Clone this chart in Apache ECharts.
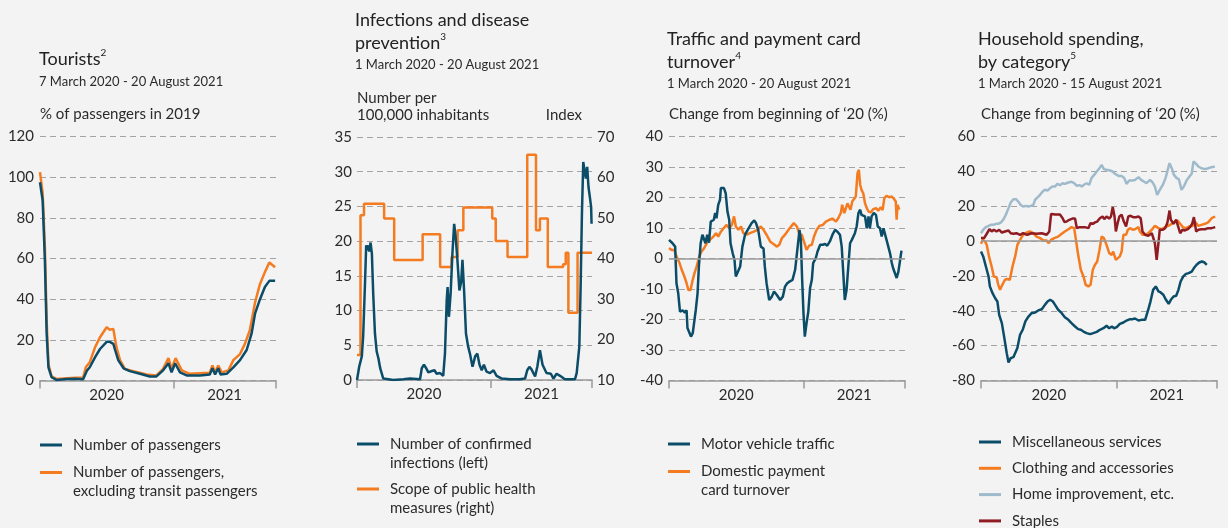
<!DOCTYPE html>
<html>
<head>
<meta charset="utf-8">
<script src="https://cdn.jsdelivr.net/npm/echarts@6/dist/echarts.min.js"></script>
<style>
  html, body { margin: 0; padding: 0; background: #f3f3f3; }
  #chart { width: 1228px; height: 528px; }
</style>
</head>
<body>
<div id="chart"></div>
<script>
// x values are days since each panel's start date
const yearLabels = ['2020', '2021'];

// Tourists (from 7 March 2020)
const passengers = [[0,97.5],[6,88.5],[11,59],[15,23],[19,6.5],[26,1.6],[37,0.3],[60,0.7],[80,0.9],[97,0.6],[101,0.5],[106,5],[112,6.5],[124,11.5],[135,15.5],[150,19],[157,19],[165,18],[169,15],[176,10],[188,6],[202,4.6],[225,3.3],[247,2],[262,2],[277,5],[289,8.5],[296,4],[304,8.5],[315,4],[330,2.5],[360,2.5],[382,3],[388,6],[394,3],[401,6],[406,3],[420,3.3],[435,6.5],[450,10],[465,15],[476,23],[484,33],[495,40],[506,46],[516,49],[529,49]];
const passengersExTransit = [[0,102.5],[6,92],[11,65.5],[15,29.5],[19,8],[26,2],[37,0.8],[60,1.1],[80,1.3],[97,1.3],[103,6.5],[112,9],[124,16.4],[135,21.3],[150,26.2],[157,25],[165,25.4],[172,16.4],[180,10],[191,5.7],[210,4.6],[240,3],[262,2.5],[277,5.7],[289,11],[296,5.7],[305,11],[319,5],[337,3.3],[382,3.8],[388,7.4],[394,4],[401,7.4],[409,4],[424,5],[435,10],[450,13],[461,18],[472,24.6],[484,38.5],[495,47.5],[506,53.3],[516,58],[529,55.7]];

// Infections and disease prevention (from 1 March 2020)
const infections = [[0,0],[5,1.9],[11,3.4],[14,6.2],[18,13.4],[21,19.4],[24,18.7],[26,19.4],[28,18.5],[31,19.8],[34,18.2],[37,12.5],[41,6.7],[45,4.1],[49,3.1],[53,1.7],[60,0.2],[83,0],[106,0.1],[121,0.2],[144,0.1],[148,1.7],[153,2.2],[158,1.7],[163,1.1],[171,1.3],[177,1.4],[182,0.9],[190,1],[197,0.6],[201,3.8],[205,11.5],[207,13.4],[210,9.1],[214,12.5],[218,18.2],[222,22.5],[225,20.9],[229,17.7],[234,12.9],[238,14.1],[241,17.3],[245,12.5],[249,6.7],[254,4.8],[258,3.8],[264,1.9],[270,3.4],[275,3.8],[280,2.2],[285,1.4],[290,2.2],[296,1.2],[304,1],[312,1.4],[319,0.6],[331,0.2],[350,0.1],[372,0.1],[384,0.2],[389,1.4],[394,1.9],[399,1.5],[407,0.5],[412,1.9],[418,4.3],[424,2.2],[433,1],[443,0.9],[449,0.2],[456,0.9],[464,0.6],[475,0.1],[487,0.1],[498,0.1],[502,1],[508,4.8],[511,13.4],[514,24],[517,31.4],[521,31.2],[523,29],[526,30.7],[529,27.8],[532,26.4],[535,24.9],[536,22.5]];
const healthMeasures = [[0,16.2],[8,50.7],[16,53.5],[62,49.9],[85,39.6],[150,46],[190,37.9],[216,40.4],[230,47],[243,52.6],[309,49.9],[317,44.3],[344,40.4],[389,65.6],[409,47],[418,49.9],[436,37.9],[471,38.6],[477,41.4],[483,26.6],[504,41.4],[537,41.4]];

// Traffic and payment card turnover (from 1 March 2020)
const vehicleTraffic = [[0,6.1],[8,5],[14,3.9],[17,-8.1],[21,-11.4],[25,-17.4],[31,-17],[36,-17.7],[40,-17],[42,-22.8],[46,-23.4],[50,-25.6],[54,-24.5],[58,-20.1],[61,-16.8],[65,-11.4],[68,-2.6],[72,5],[76,7.8],[80,8.3],[83,5],[87,7.8],[91,5.2],[95,12.1],[99,11.6],[102,12.7],[105,14.9],[108,13.2],[112,17.6],[116,19.2],[118,23.1],[125,23.1],[129,21.4],[133,15.4],[137,12.7],[140,5],[145,1.7],[149,-0.4],[152,-5.9],[156,-5.4],[162,-2.6],[167,3.9],[173,7.8],[181,9.9],[188,11.6],[194,12.5],[198,11.6],[203,9.4],[209,3.9],[215,3.3],[218,-2.6],[222,-8.1],[228,-13.6],[234,-12.5],[239,-10.8],[245,-11.9],[253,-13.6],[259,-12.5],[264,-9.2],[269,-8.1],[275,-7.5],[281,-7],[287,-3.7],[292,2.8],[297,9.4],[300,6.1],[303,-7],[306,-17.9],[309,-25.6],[313,-21.2],[317,-17.4],[321,-9.7],[325,-7],[328,-1.5],[334,0.1],[338,2.3],[344,4.5],[350,4.5],[355,4.8],[360,4.2],[366,5.6],[372,7.8],[378,9.4],[383,8.8],[389,7.8],[393,3.9],[397,-5.9],[400,-13.6],[404,-10.3],[408,-10.3],[412,5],[416,6.1],[419,5.6],[423,8.3],[427,10.5],[431,14.9],[435,16],[438,14.3],[442,14.3],[446,13.8],[450,9.9],[454,13.8],[457,9.9],[461,13.8],[466,14.9],[471,14.3],[475,10.5],[480,9.9],[484,7.2],[488,9.9],[492,10.5],[495,6.1],[499,3.9],[503,1.7],[507,-1.5],[510,-3.2],[514,-2.6],[518,-6.4],[522,-4.3],[526,-0.4],[529,2.6]];
const cardTurnover = [[0,3.4],[6,2.8],[12,2.8],[17,0.7],[24,-1.5],[29,-3.7],[35,-5.9],[40,-8.1],[44,-10.3],[49,-10.3],[54,-7],[58,-4.8],[63,-2.6],[69,0.7],[74,2.3],[80,3.4],[86,5],[93,6.1],[101,7.2],[107,8.3],[112,7.2],[118,8.8],[124,9.9],[131,11],[137,9.9],[143,11],[148,13.8],[152,10.5],[158,9.4],[164,10.5],[169,8.3],[177,7.8],[184,8.3],[193,8.8],[201,9.4],[209,10.5],[215,9.4],[222,7.8],[230,5.6],[237,4.8],[245,3.9],[251,4.5],[257,6.7],[264,7.8],[272,9.4],[279,10.7],[284,11.6],[291,10.5],[297,7.8],[302,7.8],[307,5.6],[313,2.8],[319,4.2],[325,4.5],[330,7.2],[336,9.4],[342,10.7],[350,11],[357,12.1],[365,12.7],[372,13.1],[380,12.1],[385,13.2],[391,14.9],[394,17.6],[399,14.9],[403,14.9],[406,18.1],[410,18.7],[413,16],[417,18.7],[421,18.1],[425,20.3],[429,28],[432,29.1],[435,24.2],[438,22.5],[442,21.4],[446,18.1],[450,16.5],[454,15.4],[459,15.1],[465,16.2],[471,16.5],[476,15.7],[482,16.8],[486,15.9],[490,19.8],[495,20.5],[501,20.1],[507,20.3],[512,19.5],[516,18.7],[518,12.7],[520,17.6],[524,16]];

// Household spending, by category (from 1 March 2020)
const miscServices = [[0,-6],[5,-8.8],[11,-14.6],[17,-20.3],[20,-26],[26,-29.9],[32,-32.8],[37,-34.7],[41,-42.3],[47,-47.1],[52,-54.7],[58,-64.3],[62,-69.7],[67,-67.2],[73,-66.6],[77,-66.2],[82,-61.4],[88,-53.8],[94,-50.9],[100,-46.1],[107,-43.3],[114,-41.4],[122,-41],[129,-39.8],[137,-39.1],[144,-36.6],[150,-34.7],[156,-33.7],[162,-34.7],[167,-36.6],[174,-39.4],[182,-41.4],[189,-43.7],[197,-45.2],[204,-47.1],[212,-49],[219,-50.5],[225,-50.9],[231,-51.9],[238,-52.8],[246,-53.4],[253,-52.8],[261,-52.1],[268,-50.9],[276,-50],[283,-48.6],[289,-50],[295,-49],[300,-50],[306,-49.4],[313,-47.5],[321,-46.7],[328,-45.6],[336,-44.8],[342,-44.8],[347,-44.4],[355,-45.6],[362,-45.2],[370,-45.2],[377,-39.4],[382,-34.7],[388,-28],[394,-26],[400,-28.9],[405,-29.5],[411,-30.8],[417,-33.7],[423,-36],[428,-33.7],[434,-31.8],[440,-31.4],[445,-28],[450,-23.2],[456,-20.3],[462,-18.8],[468,-18.4],[475,-17.5],[480,-15.5],[486,-13.6],[492,-12.3],[498,-11.7],[504,-12.3],[509,-13.6]];
const clothing = [[0,-1.6],[4,0.7],[9,-0.2],[13,-2.2],[18,-8.8],[24,-14.6],[29,-20.3],[35,-20.7],[39,-25.1],[43,-28],[48,-25.1],[54,-22.2],[59,-21.8],[65,-22.2],[71,-14.6],[77,-8.8],[82,-2.2],[88,0.7],[95,3.6],[103,4.9],[110,5.5],[118,4.5],[125,2.6],[133,1.7],[141,0.3],[148,0.3],[152,-1.2],[158,0.7],[165,1.7],[174,2.6],[182,4.2],[189,5.5],[197,6.8],[204,8],[210,7.4],[214,0.7],[219,-7.9],[225,-16.5],[231,-20.3],[236,-25.1],[242,-26],[247,-25.1],[252,-16.5],[257,-13.6],[262,-11.7],[267,-5.2],[272,2.6],[277,1.7],[283,-2.2],[289,-6.9],[295,-7.9],[298,-6],[304,-10.8],[308,-11.7],[313,-8.8],[317,-6],[321,3.6],[327,3.6],[331,6.5],[336,7.4],[342,6.5],[347,6.8],[355,8],[358,5.5],[364,3.6],[370,3.6],[377,4.5],[385,6.5],[392,8.7],[400,7.4],[407,6.8],[415,8],[422,8.7],[430,9.9],[437,11.2],[443,11.8],[449,9.9],[455,8],[462,7.4],[470,8.4],[477,8.7],[482,11.2],[490,8.7],[497,9.3],[505,9.9],[512,10.7],[520,13.1],[528,14.1]];
const homeImprovement = [[0,4.5],[5,6.5],[11,8],[17,8.7],[22,9.3],[28,9.3],[34,9.9],[39,9.9],[45,10.7],[50,12.2],[56,15.1],[62,18.9],[67,22.1],[73,24],[79,24],[84,22.7],[89,20.8],[95,19.8],[101,20.2],[107,19.8],[112,20.2],[118,20.8],[122,23.7],[128,25.2],[133,26.5],[139,28.4],[144,29.4],[150,29],[156,30.4],[161,31.3],[167,31.3],[172,32.8],[178,32.1],[184,33.2],[189,32.8],[197,33.6],[204,34],[210,33.2],[216,31.7],[222,32.1],[227,31.3],[232,32.3],[238,33.2],[244,32.3],[249,36.1],[255,38],[261,39.9],[267,41.8],[272,43.7],[277,41.3],[283,40.9],[291,40.5],[297,39.9],[302,38.6],[310,37.4],[317,37.4],[323,36.1],[328,32.8],[334,34.8],[340,34.8],[347,35.1],[355,36.7],[361,35.1],[367,34.2],[373,33.2],[381,35.1],[387,33.6],[392,31.3],[397,26.5],[403,29.4],[410,32.3],[416,36.1],[420,39.9],[425,44.7],[430,41.8],[435,38],[441,36.1],[446,35.5],[452,29.4],[458,31.7],[464,35.1],[470,37.1],[475,38.6],[479,45.7],[485,44.3],[490,42.8],[497,41.8],[505,41.3],[512,41.8],[520,42.4],[527,42.8]];
const staples = [[0,1.7],[7,1.7],[13,4.2],[19,6.8],[24,5.5],[29,6.5],[35,5.5],[41,6.5],[47,4.9],[54,5.5],[62,6.1],[67,4.5],[73,4.2],[80,4.5],[88,3.6],[95,4.5],[104,3.6],[114,4.5],[125,4.2],[137,4.5],[148,3.6],[154,5.5],[158,15.6],[167,15.2],[178,15.2],[184,13.1],[188,10.9],[193,11.2],[199,12.2],[206,12.9],[212,12.9],[216,7.4],[222,8],[227,8],[234,8],[242,7.4],[247,10.3],[252,9.9],[257,10.7],[262,11.2],[268,13.1],[274,14.1],[278,12.6],[283,14.1],[289,12.9],[293,14.1],[297,19.5],[301,14.1],[304,5.5],[308,10.3],[312,14.1],[317,15.1],[322,11.2],[327,8.4],[332,14.1],[337,14.5],[343,13.7],[349,13.7],[355,14.1],[360,13.1],[364,5.5],[370,3.6],[377,3],[385,4.5],[388,4.2],[392,-1.2],[396,-10.8],[400,-1.2],[403,6.5],[410,6.5],[415,7.4],[420,10.3],[425,17.5],[428,12.2],[434,9.9],[440,12.2],[444,8.7],[449,4.5],[454,6.5],[460,6.1],[466,6.8],[471,8],[476,9.9],[480,13.7],[485,5.5],[490,6.5],[497,6.8],[505,6.8],[512,7.4],[520,7.4],[528,8]];

const FONT = 'Lato';
const TEXT = '#2b2b2b';
const AXIS = '#9b9b9b';
const GRID = '#a3a3a3';
const TEAL = '#0b4d69';
const ORANGE = '#f47b20';
const LIGHTBLUE = '#9fbacb';
const DARKRED = '#8e1c22';

function days(start, date) {
  return (Date.parse(date) - Date.parse(start)) / 864e5;
}

function xAxisFor(gridIndex, start, end) {
  const endDay = days(start, end);
  const yearDay = days(start, '2021-01-01');
  return {
    type: 'value', gridIndex, min: 0, max: endDay,
    axisLine: { show: true, onZero: false, lineStyle: { color: AXIS, width: 1.5 } },
    axisTick: { show: true, customValues: [0, yearDay, endDay], length: 8, lineStyle: { color: AXIS, width: 1.5 } },
    axisLabel: {
      customValues: [yearDay / 2, (yearDay + endDay) / 2],
      formatter: v => v < yearDay ? yearLabels[0] : yearLabels[1],
      margin: 7, fontFamily: FONT, fontSize: 15, color: TEXT
    },
    splitLine: { show: false }
  };
}

function yAxisFor(gridIndex, min, max, interval, name, extra) {
  return Object.assign({
    type: 'value', gridIndex, min, max, interval,
    name, nameLocation: 'end', nameGap: 22,
    nameTextStyle: { fontFamily: FONT, fontSize: 15, color: TEXT, align: 'left', verticalAlign: 'middle', lineHeight: 17 },
    axisLine: { show: false }, axisTick: { show: false },
    axisLabel: { margin: 6, fontFamily: FONT, fontSize: 15, color: TEXT },
    splitLine: { show: true, lineStyle: { color: GRID, type: [6, 4], width: 1 } }
  }, extra || {});
}

function line(name, data, xi, yi, color, extra) {
  return Object.assign({
    name, type: 'line', xAxisIndex: xi, yAxisIndex: yi, data,
    symbol: 'none', showSymbol: false, silent: true,
    lineStyle: { width: 2.5, color }, itemStyle: { color }
  }, extra || {});
}

const zeroLine = {
  silent: true, symbol: 'none', label: { show: false },
  lineStyle: { color: AXIS, type: 'solid', width: 1.5 },
  data: [{ yAxis: 0 }]
};

// two-line names get an empty leading line so the key sits beside the first line
function legendFor(left, top, gap, names) {
  return {
    left, top, height: 160, orient: 'vertical', padding: 0, itemGap: gap,
    itemWidth: 22, itemHeight: 3, icon: 'rect', selectedMode: false,
    formatter: n => n.indexOf('\n') >= 0 ? '\n' + n : n,
    textStyle: { fontFamily: FONT, fontSize: 15, color: TEXT, lineHeight: 19, padding: [0, 0, 0, 6] },
    data: names
  };
}

const titleStyle = {
  fontFamily: FONT, fontSize: 18, fontWeight: 'normal', color: '#222', lineHeight: 23,
  rich: { sup: { fontFamily: FONT, fontSize: 10, color: '#222', verticalAlign: 'top', lineHeight: 16 } }
};
const dateStyle = { fontFamily: FONT, fontSize: 13, fontWeight: 'normal', color: TEXT };

const N = {
  pass: 'Number of passengers',
  passEx: 'Number of passengers,\nexcluding transit passengers',
  inf: 'Number of confirmed\ninfections (left)',
  meas: 'Scope of public health\nmeasures (right)',
  traffic: 'Motor vehicle traffic',
  card: 'Domestic payment\ncard turnover',
  misc: 'Miscellaneous services',
  cloth: 'Clothing and accessories',
  home: 'Home improvement, etc.',
  staples: 'Staples'
};

const chart = echarts.init(document.getElementById('chart'), null, { renderer: 'canvas' });
chart.setOption({
  backgroundColor: '#f3f3f3',
  animation: false,
  title: [
    { text: 'Tourists{sup|2}', left: 39, top: 48, padding: 0, textStyle: titleStyle },
    { text: '7 March 2020 - 20 August 2021', left: 39, top: 75, padding: 0, textStyle: dateStyle },
    { text: 'Infections and disease\nprevention{sup|3}', left: 355, top: 9, padding: 0, textStyle: titleStyle },
    { text: '1 March 2020 - 20 August 2021', left: 355, top: 58.5, padding: 0, textStyle: dateStyle },
    { text: 'Traffic and payment card\nturnover{sup|4}', left: 667, top: 28, padding: 0, textStyle: titleStyle },
    { text: '1 March 2020 - 20 August 2021', left: 667, top: 77.5, padding: 0, textStyle: dateStyle },
    { text: 'Household spending,\nby category{sup|5}', left: 978, top: 28, padding: 0, textStyle: titleStyle },
    { text: '1 March 2020 - 15 August 2021', left: 978, top: 77.5, padding: 0, textStyle: dateStyle }
  ],
  legend: [
    legendFor(40, 435.5, -10.5, [N.pass, N.passEx]),
    legendFor(357, 415.5, -12, [N.inf, N.meas]),
    legendFor(668, 434.5, -10.5, [N.traffic, N.card]),
    legendFor(979, 432.5, 7.3, [N.misc, N.cloth, N.home, N.staples])
  ],
  grid: [
    { left: 40, top: 136.5, width: 236, height: 244 },
    { left: 357, top: 137, width: 235, height: 243 },
    { left: 669, top: 136.5, width: 236, height: 244 },
    { left: 981, top: 136.5, width: 236, height: 244 }
  ],
  xAxis: [
    xAxisFor(0, '2020-03-07', '2021-08-20'),
    xAxisFor(1, '2020-03-01', '2021-08-20'),
    xAxisFor(2, '2020-03-01', '2021-08-20'),
    xAxisFor(3, '2020-03-01', '2021-08-15')
  ],
  yAxis: [
    yAxisFor(0, 0, 120, 20, '% of passengers in 2019'),
    yAxisFor(1, 0, 35, 5, 'Number per\n100,000 inhabitants', { nameGap: 30.5, axisLabel: { margin: 5, fontFamily: FONT, fontSize: 15, color: TEXT } }),
    yAxisFor(1, 10, 70, 10, 'Index', {
      position: 'right',
      nameTextStyle: { fontFamily: FONT, fontSize: 15, color: TEXT, align: 'right', verticalAlign: 'middle', padding: [0, 10, 0, 0] },
      axisLabel: { margin: 5, fontFamily: FONT, fontSize: 15, color: TEXT },
      splitLine: { show: false }
    }),
    yAxisFor(2, -40, 40, 10, 'Change from beginning of \u201820 (%)'),
    yAxisFor(3, -80, 60, 20, 'Change from beginning of \u201820 (%)')
  ],
  series: [
    line(N.passEx, passengersExTransit, 0, 0, ORANGE),
    line(N.pass, passengers, 0, 0, TEAL),
    line(N.meas, healthMeasures, 1, 2, ORANGE, { step: 'end' }),
    line(N.inf, infections, 1, 1, TEAL),
    line(N.card, cardTurnover, 2, 3, ORANGE, { markLine: zeroLine }),
    line(N.traffic, vehicleTraffic, 2, 3, TEAL),
    line(N.home, homeImprovement, 3, 4, LIGHTBLUE, { markLine: zeroLine }),
    line(N.cloth, clothing, 3, 4, ORANGE),
    line(N.staples, staples, 3, 4, DARKRED),
    line(N.misc, miscServices, 3, 4, TEAL)
  ]
});
</script>
</body>
</html>
